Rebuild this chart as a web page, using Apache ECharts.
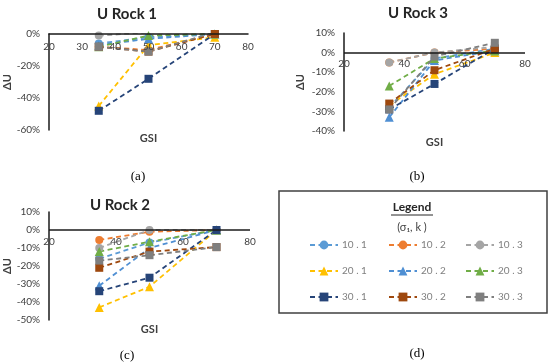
<!DOCTYPE html>
<html>
<head>
<meta charset="utf-8">
<script src="https://cdn.jsdelivr.net/npm/echarts@6/dist/echarts.min.js"></script>
<style>html,body{margin:0;padding:0;background:#fff}#c{width:550px;height:362px}</style>
</head>
<body>
<div id="c"></div>
<script>
// ---- data ----
var gsi = [35, 50, 70];
var seriesNames = ['10 . 1', '10 . 2', '10 . 3', '20 . 1', '20 . 2', '20 . 3', '30 . 1', '30 . 2', '30 . 3'];
var panelTitles = ['U Rock 1', 'U Rock 3', 'U Rock 2'];
var panelCaptions = ['(a)', '(b)', '(c)', '(d)'];
// ΔU (%) at GSI 35, 50, 70 for each series, per panel
var rock1Values = [
  [-6, -2, 0], [-8, -10, 0], [-1, 1, 1],
  [-45, -7, -2], [-7, -3, 0], [-8, -1, 0],
  [-48, -28, 0], [-8, -11, 0], [-8, -11, 1]
];
var rock3Values = [
  [-28, -3, 2], [-5, 0, 2], [-5, 0, 3],
  [-27, -11, 0], [-33, -4, 1], [-17, -3, 1],
  [-29, -16, 2], [-26, -9, 2], [-29, -2, 5]
];
var rock2Values = [
  [-16, -7, 0], [-5.5, -1, 0], [-10, 0, 0],
  [-43, -31.5, 0], [-31, -10, 0], [-12, -6.5, 0],
  [-34, -26.5, 0], [-21, -12, -9.5], [-17, -14, -9.5]
];
var xTicks1 = [20, 30, 40, 50, 60, 70, 80];
var xTicks23 = [20, 40, 60, 80];
var yTicks1 = [-60, -40, -20, 0];
var yTicks2 = [-40, -30, -20, -10, 0, 10];
var yTicks3 = [-50, -40, -30, -20, -10, 0, 10];

// ---- styles ----
var colors = ['#5B9BD5', '#ED7D31', '#A5A5A5', '#FFC000', '#4F8FD3', '#70AD47', '#264478', '#9E480E', '#7F7F7F'];
var symbols = ['circle', 'circle', 'circle', 'triangle', 'triangle', 'triangle', 'rect', 'rect', 'rect'];
var symSizes = [8, 8, 8, 9, 9, 9, 8, 8, 8];
var font = 'Lato, "Open Sans", sans-serif';

var grids = [
  {left: 49, top: 34, width: 199, height: 96},
  {left: 344, top: 33, width: 181, height: 98},
  {left: 49, top: 212, width: 201, height: 108}
].map(function (g) { g.containLabel = false; g.outerBoundsMode = 'none'; return g; });
var yNameGap = [28, 38, 33];
var xTickSets = [xTicks1, xTicks23, xTicks23];
var yTickSets = [yTicks1, yTicks2, yTicks3];

var xAxes = [], yAxes = [];
var nameStyle = {fontFamily: font, fontWeight: 'bold', fontSize: 11, color: '#404040'};
// (a): the zero line is the top edge, labels just inside
xAxes.push({
  gridIndex: 0, type: 'value', position: 'top', min: 20, max: 80, interval: 10,
  axisLine: {show: true, onZero: false, lineStyle: {color: '#1a1a1a', width: 1.5}},
  axisTick: {show: false}, splitLine: {show: false}, z: 5,
  axisLabel: {inside: true, fontFamily: font, fontSize: 10, color: '#404040', margin: 8,
    hideOverlap: false, customValues: xTicks1}
});
var xLabelMargin = [0, -72, -83];
for (var p = 1; p < 3; p++) {
  var xt = xTickSets[p];
  xAxes.push({
    gridIndex: p, type: 'value', min: xt[0], max: xt[xt.length - 1], interval: xt[1] - xt[0],
    name: 'GSI', nameLocation: 'middle', nameGap: p === 1 ? 6 : 4, z: 5,
    nameTextStyle: nameStyle,
    axisLine: {show: false, onZero: false},
    axisTick: {show: false}, splitLine: {show: false},
    axisLabel: {fontFamily: font, fontSize: 10, color: '#404040', margin: xLabelMargin[p],
      hideOverlap: false, customValues: xt}
  });
}
// axis-title holder for (a) at the bottom
xAxes.push({
  gridIndex: 0, type: 'value', position: 'bottom', min: 20, max: 80,
  name: 'GSI', nameLocation: 'middle', nameGap: 3, nameTextStyle: nameStyle,
  axisLine: {show: false}, axisTick: {show: false}, splitLine: {show: false}, axisLabel: {show: false}
});
for (var p = 0; p < 3; p++) {
  var yt = yTickSets[p];
  yAxes.push({
    gridIndex: p, type: 'value', min: yt[0], max: yt[yt.length - 1], interval: yt[1] - yt[0],
    name: 'ΔU', nameLocation: 'middle', nameGap: yNameGap[p], nameRotate: 90,
    nameTextStyle: nameStyle,
    axisLine: {show: true, onZero: false, lineStyle: {color: '#1a1a1a', width: 1.5}},
    axisTick: {show: false}, splitLine: {show: false},
    axisLabel: {fontFamily: font, fontSize: 10, color: '#404040', margin: 9, formatter: '{value}%',
      customValues: yt}
  });
}

var panels = [rock1Values, rock3Values, rock2Values];
var series = [];
for (var p = 0; p < 3; p++) {
  if (p > 0) {
    // zero line (horizontal axis crossing at 0)
    series.push({
      type: 'line', xAxisIndex: p, yAxisIndex: p, data: [], silent: true,
      markLine: {silent: true, symbol: 'none', label: {show: false},
        lineStyle: {color: '#1a1a1a', width: 1.5, type: 'solid'},
        data: [{yAxis: 0}]},
      z: 1
    });
  }
  for (var s = 0; s < 9; s++) {
    var vals = panels[p][s];
    series.push({
      name: seriesNames[s], type: 'line', xAxisIndex: p, yAxisIndex: p,
      data: gsi.map(function (g, i) { return [g, vals[i]]; }),
      symbol: symbols[s], symbolSize: symSizes[s],
      itemStyle: {color: colors[s]},
      lineStyle: {color: colors[s], width: 1.8, type: [5, 3.5]},
      animation: false, z: 3
    });
  }
}

// legends: one per item, positioned in a 3x3 layout
var legendLeft = [309, 388, 465];
var legendTop = [240, 266, 292];
var legends = [];
for (var s = 0; s < 9; s++) {
  legends.push({
    data: [seriesNames[s]], left: legendLeft[s % 3], top: legendTop[Math.floor(s / 3)],
    itemWidth: 28, itemHeight: 11, itemGap: 0, selectedMode: false, padding: 0,
    textStyle: {fontFamily: font, fontSize: 10, color: '#7f7f7f', padding: [0, 0, 0, -1]}
  });
}

var titles = [
  {text: panelTitles[0], left: 122, top: 2, textAlign: 'center'},
  {text: panelTitles[1], left: 413, top: 1, textAlign: 'center'},
  {text: panelTitles[2], left: 115, top: 193, textAlign: 'center'}
].map(function (t) {
  t.textStyle = {fontFamily: font, fontWeight: 'bold', fontSize: 15, color: '#262626'};
  return t;
});
var capPos = [[133, 165], [412, 165], [122, 344], [412, 342]];
for (var i = 0; i < 4; i++) {
  titles.push({text: panelCaptions[i], left: capPos[i][0], top: capPos[i][1], textAlign: 'center',
    textStyle: {fontFamily: '"Liberation Serif", serif', fontWeight: 'normal', fontSize: 13, color: '#000'}});
}

var chart = echarts.init(document.getElementById('c'), null, {renderer: 'canvas'});
chart.setOption({
  animation: false,
  backgroundColor: '#fff',
  title: titles,
  grid: grids,
  xAxis: xAxes,
  yAxis: yAxes,
  legend: legends,
  series: series,
  graphic: [
    {type: 'rect', shape: {x: 279, y: 191, width: 268, height: 122},
     style: {fill: 'none', stroke: '#404040', lineWidth: 1.5}},
    {type: 'text', x: 412, y: 207, style: {text: 'Legend', fontFamily: font, fontWeight: 'bold', fontSize: 12,
     fill: '#262626', align: 'center', verticalAlign: 'middle'}},
    {type: 'line', shape: {x1: 391, y1: 215, x2: 433, y2: 215}, style: {stroke: '#262626', lineWidth: 1}},
    {type: 'text', x: 412, y: 227, style: {text: '(σ₁, k )', fontFamily: font, fontSize: 11,
     fill: '#404040', align: 'center', verticalAlign: 'middle'}}
  ]
});
</script>
</body>
</html>
